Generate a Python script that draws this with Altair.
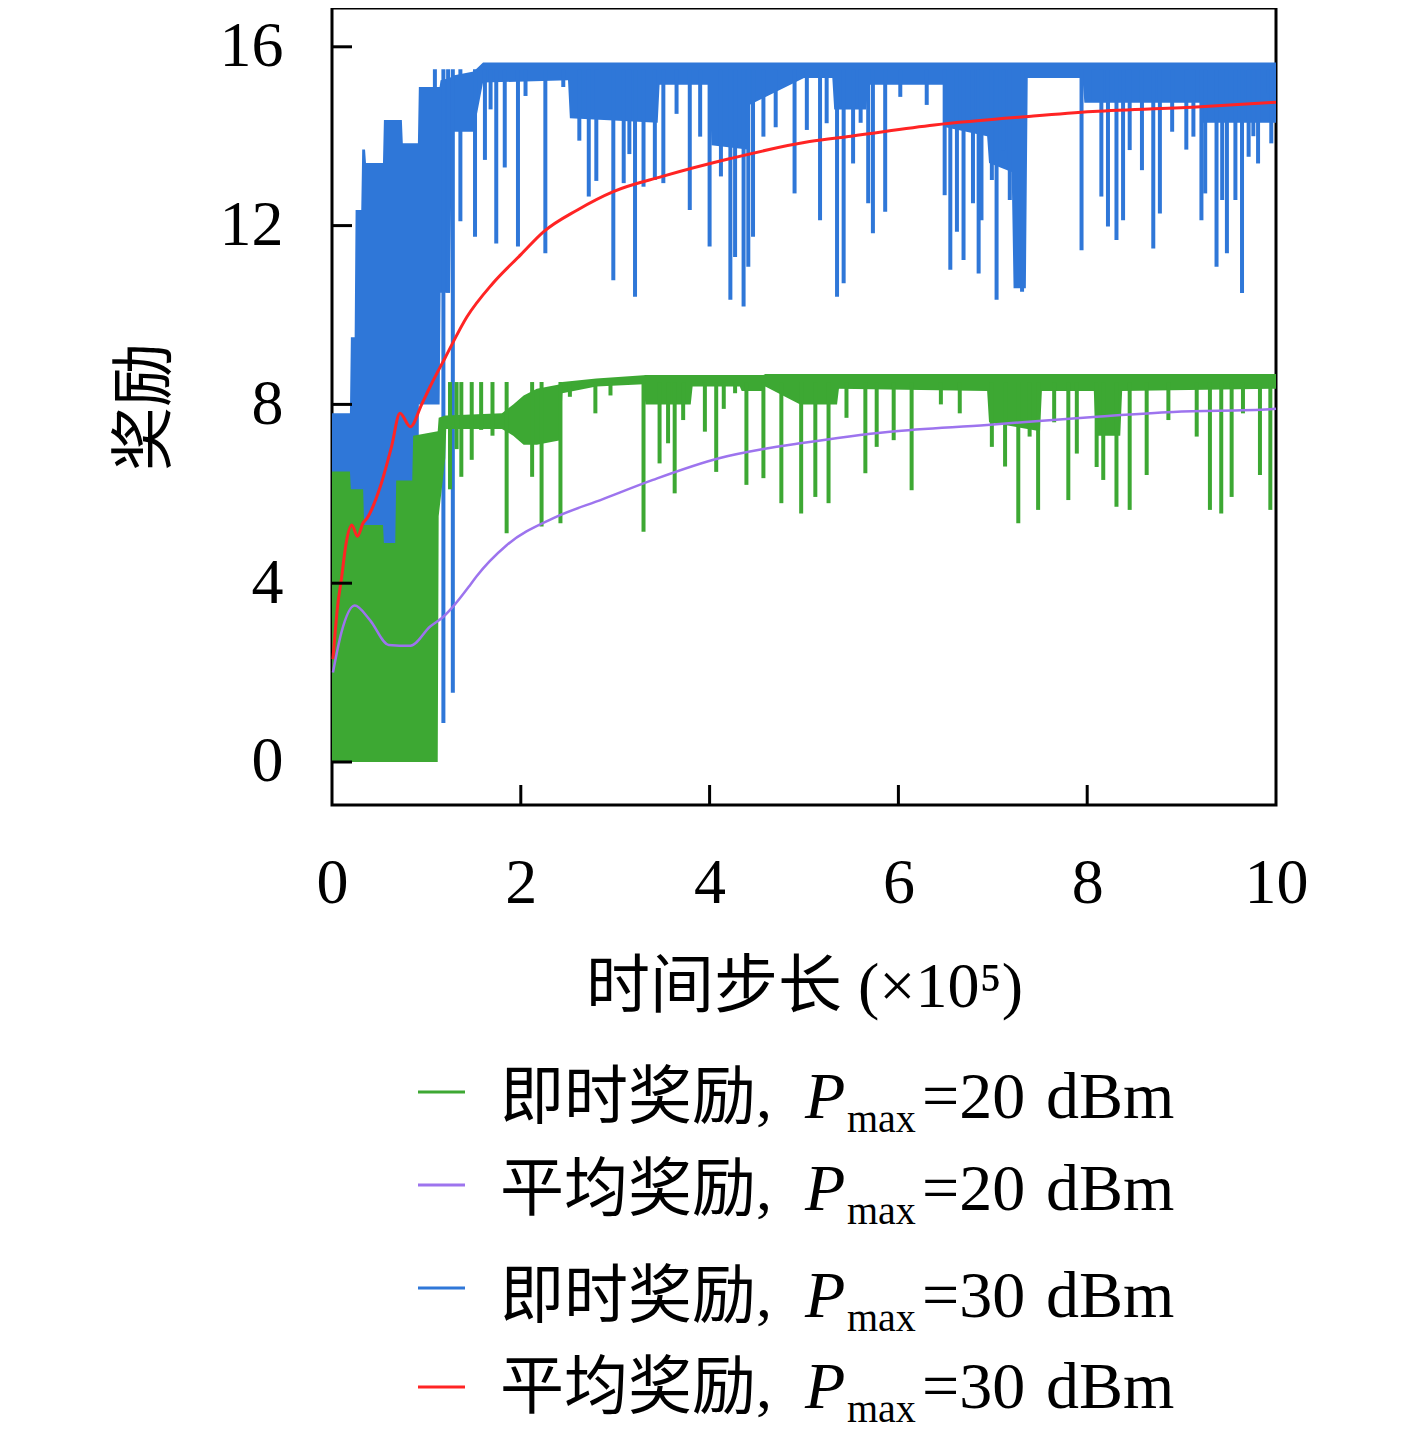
import altair as alt
import pandas as pd

# ---------------- data ----------------
# instantaneous reward, Pmax = 30 dBm : dense band (upper / lower envelope)
blue_band_x = [0, 0.19, 0.2, 0.24, 0.25, 0.31, 0.32, 0.35, 0.36, 0.54,
               0.55, 0.74, 0.75, 0.91, 0.92, 1.14, 1.15, 1.25, 1.27, 1.5,
               1.6, 2.5, 2.52, 3.45, 3.47, 4.0, 4.02, 4.4, 4.42, 5.0,
               5.3, 5.32, 5.66, 5.68, 6.48, 6.5, 6.94, 6.96, 7.2, 7.22,
               7.35, 7.37, 7.95, 7.97, 9.2, 9.22, 10.0]
blue_band_hi = [7.8, 7.8, 9.5, 9.5, 12.35, 12.35, 13.7, 13.7, 13.4, 13.4,
                14.36, 14.36, 13.84, 13.84, 15.1, 15.1, 15.25, 15.3, 15.35, 15.45,
                15.65, 15.65, 15.65, 15.65, 15.65, 15.65, 15.65, 15.65, 15.65, 15.65,
                15.65, 15.65, 15.65, 15.65, 15.65, 15.65, 15.65, 15.65, 15.65, 15.65,
                15.65, 15.65, 15.65, 15.65, 15.65, 15.65, 15.65]
blue_band_lo = [0, 0, 0, 0, 0, 0, 0, 0, 0, 0,
                0, 0, 0, 0, 8.0, 8.0, 10.5, 10.5, 14.1, 14.1,
                15.2, 15.25, 14.4, 14.3, 15.15, 15.15, 13.8, 13.7, 14.7, 15.3,
                15.3, 14.6, 14.6, 15.15, 15.15, 14.2, 14.0, 13.4, 13.2, 10.6,
                10.6, 15.3, 15.3, 14.75, 14.75, 14.3, 14.3]
# downward spikes (x, lowest value)
blue_spike_x = [1.09, 1.18, 1.23, 1.28, 1.36, 1.515, 1.62, 1.74, 1.83, 1.97,
                2.26, 2.45, 2.72, 2.80, 2.98, 3.09, 3.21, 3.30, 3.42, 3.51,
                3.79, 3.90, 4.0, 4.22, 4.27, 4.36, 4.41, 4.46, 4.57, 4.9,
                5.03, 5.17, 5.24, 5.35, 5.42, 5.52, 5.68, 5.73, 5.86, 6.02,
                6.49, 6.55, 6.62, 6.69, 6.79, 6.85, 6.88, 6.99, 7.04, 7.11,
                7.18, 7.31, 7.94, 8.07, 8.15, 8.22, 8.31, 8.38, 8.45, 8.58,
                8.7, 8.77, 9.125, 9.21, 9.25, 9.37, 9.43, 9.48, 9.57, 9.64,
                9.71, 9.81, 9.92, 9.95,
                1.68, 2.05, 2.62, 3.15, 3.65, 4.12, 4.7, 5.6, 6.3, 8.9, 9.05, 9.76]
blue_spike_low = [10.2, 0.87, 10.5, 1.55, 12.1, 11.75, 13.47, 11.6, 13.3, 11.53,
                  11.38, 15.1, 12.65, 13.0, 10.78, 12.95, 10.41, 12.87, 13.02, 12.95,
                  12.35, 13.99, 11.53, 10.34, 11.3, 10.19, 11.08, 11.75, 13.99, 12.72,
                  14.14, 12.12, 14.29, 10.41, 10.71, 13.39, 12.5, 11.83, 12.31, 14.88,
                  12.68, 11.01, 11.86, 11.23, 12.5, 10.93, 12.12, 13.02, 10.34, 13.69,
                  12.57, 10.52, 11.45, 14.81, 12.65, 11.98, 11.68, 12.12, 13.69, 13.24,
                  11.49, 12.27, 13.99, 12.12, 12.72, 11.08, 12.57, 11.38, 12.57, 10.49,
                  13.54, 13.39, 14.96, 13.84,
                  14.6, 14.9, 13.9, 13.6, 14.5, 13.1, 14.2, 14.3, 14.7, 14.1, 13.7, 14.0]

# instantaneous reward, Pmax = 20 dBm
green_band_x = [0, 0.19, 0.2, 0.33, 0.34, 0.54, 0.55, 0.67, 0.68, 0.85,
                0.86, 1.12, 1.13, 1.20, 1.21, 1.8, 1.92, 2.03, 2.17, 2.42,
                2.44, 2.8, 3.3, 3.32, 3.8, 3.82, 4.32, 4.34, 4.57, 4.59,
                4.96, 5.35, 5.37, 6.94, 6.96, 7.5, 7.52, 8.07, 8.09, 8.35,
                8.37, 10.0]
green_band_hi = [6.5, 6.5, 6.1, 6.1, 5.3, 5.3, 4.9, 4.9, 6.3, 6.3,
                 7.3, 7.4, 7.7, 7.75, 7.75, 7.8, 8.0, 8.2, 8.35, 8.45,
                 8.5, 8.58, 8.65, 8.66, 8.66, 8.66, 8.66, 8.66, 8.66, 8.68,
                 8.68, 8.68, 8.68, 8.68, 8.68, 8.68, 8.68, 8.68, 8.68, 8.68,
                 8.68, 8.68]
green_band_lo = [0, 0, 0, 0, 0, 0, 0, 0, 0, 0,
                 0, 0, 5.5, 6.8, 7.45, 7.45, 7.3, 7.1, 7.1, 7.2,
                 8.25, 8.4, 8.45, 8.0, 8.0, 8.4, 8.4, 8.3, 8.3, 8.4,
                 8.0, 8.0, 8.35, 8.3, 7.6, 7.4, 8.3, 8.3, 7.3, 7.3,
                 8.3, 8.35]
green_spike_x = [1.25, 1.37, 1.48, 1.58, 1.85, 2.12, 2.22, 2.42, 2.52, 2.79,
                 3.30, 3.47, 3.56, 3.63, 3.72, 3.95, 4.07, 4.27, 4.39, 4.57,
                 4.76, 4.97, 5.12, 5.26, 5.65, 5.77, 5.95, 6.14, 6.65, 6.99,
                 7.13, 7.27, 7.39, 7.48, 7.8, 7.89, 8.17, 8.31, 8.45, 8.63,
                 8.86, 9.16, 9.3, 9.42, 9.53, 9.83, 9.94,
                 1.32, 1.7, 2.95, 4.15, 5.45, 6.45, 7.65, 8.1, 9.65]
green_spike_low = [6.1, 6.38, 6.76, 7.43, 5.12, 6.38, 5.27, 5.34, 8.17, 7.8,
                   5.15, 6.68, 7.13, 6.01, 7.65, 7.39, 6.49, 8.25, 6.2, 6.35,
                   5.79, 5.56, 5.93, 5.79, 6.46, 7.05, 7.2, 6.08, 7.8, 7.05,
                   6.61, 5.34, 7.28, 5.64, 5.86, 6.9, 6.31, 5.71, 5.64, 6.42,
                   7.65, 7.28, 5.64, 5.56, 5.93, 6.42, 5.64,
                   7.0, 7.3, 8.2, 7.9, 7.7, 8.0, 7.6, 6.6, 7.8]

# average reward, Pmax = 30 dBm
red_x = [0.01, 0.06, 0.10, 0.15, 0.21, 0.27, 0.33, 0.37, 0.51, 0.63,
         0.72, 0.83, 0.95, 1.04, 1.2, 1.43, 1.7, 2.0, 2.24, 2.6,
         2.98, 3.5, 4.22, 5.06, 5.5, 6.38, 7.43, 8.06, 9.2, 10.0]
red_y = [2.3, 3.5, 4.1, 4.9, 5.3, 5.05, 5.35, 5.45, 6.15, 7.05,
         7.8, 7.5, 8.0, 8.4, 9.05, 9.96, 10.7, 11.35, 11.86, 12.35,
         12.76, 13.1, 13.5, 13.88, 14.0, 14.25, 14.45, 14.55, 14.66, 14.76]

# average reward, Pmax = 20 dBm
purple_x = [0.01, 0.1, 0.24, 0.4, 0.6, 0.83, 1.04, 1.18, 1.28, 1.46,
            1.53, 1.85, 2.34, 2.87, 3.4, 4.11, 4.57, 4.96, 5.91, 6.94,
            8.14, 8.91, 9.94, 10.0]
purple_y = [2.0, 2.9, 3.5, 3.18, 2.62, 2.6, 3.03, 3.25, 3.47, 3.95,
            4.15, 4.85, 5.45, 5.88, 6.31, 6.8, 7.0, 7.13, 7.39, 7.54,
            7.73, 7.83, 7.89, 7.9]

x_ticks = [0, 2, 4, 6, 8, 10]
y_ticks = [0, 4, 8, 12, 16]
legend_main = ["即时奖励,", "平均奖励,", "即时奖励,", "平均奖励,"]
legend_power = ["=20", "=20", "=30", "=30"]

# ---------------- style / layout ----------------
GREEN = "#3da833"
BLUE = "#2f77d8"
RED = "#ff2424"
PURPLE = "#9d74ee"
BG = "white"
SERIF = "Liberation Serif"
CJK = "Liberation Serif, Noto Sans CJK SC"
W, H = 944, 797
X_DOMAIN = [0, 10]
Y_DOMAIN = [-0.962, 16.868]

xs = alt.Scale(domain=X_DOMAIN, nice=False, zero=False)
ys = alt.Scale(domain=Y_DOMAIN, nice=False, zero=False)

xaxis = alt.Axis(values=x_ticks, format="d", ticks=False, domain=False, grid=False,
                 labelPadding=46, labelFont=SERIF, labelFontSize=64, labelColor="black",
                 labelFlush=False, labelOverlap=False,
                 title="时间步长 (×10⁵)", titleFont=CJK, titleFontSize=64,
                 titleFontWeight="normal", titleColor="black", titlePadding=40)
yaxis = alt.Axis(values=y_ticks, format="d", ticks=False, domain=False, grid=False,
                 labelPadding=49, labelFont=SERIF, labelFontSize=64, labelColor="black",
                 labelFlush=False, labelOverlap=False,
                 title="奖励", titleFont=CJK, titleFontSize=64,
                 titleFontWeight="normal", titleColor="black", titlePadding=42)


def X(f):
    return alt.X(f, type="quantitative", scale=xs, axis=xaxis)


def Y(f):
    return alt.Y(f, type="quantitative", scale=ys, axis=yaxis)


blue_band = pd.DataFrame({"x": blue_band_x, "hi": blue_band_hi, "lo": blue_band_lo})
blue_sp = pd.DataFrame({"x": blue_spike_x, "low": blue_spike_low})
blue_sp["top"] = 15.5
green_band = pd.DataFrame({"x": green_band_x, "hi": green_band_hi, "lo": green_band_lo})
green_sp = pd.DataFrame({"x": green_spike_x, "low": green_spike_low})
green_sp["top"] = 8.5
red_df = pd.DataFrame({"x": red_x, "y": red_y})
purple_df = pd.DataFrame({"x": purple_x, "y": purple_y})

layers = []
layers.append(alt.Chart(blue_band).mark_area(color=BLUE, opacity=1, interpolate="linear")
              .encode(x=X("x"), y=Y("hi"), y2=alt.Y2("lo")))
layers.append(alt.Chart(blue_sp).mark_rule(color=BLUE, strokeWidth=4)
              .encode(x=X("x"), y=Y("low"), y2=alt.Y2("top")))
layers.append(alt.Chart(green_band).mark_area(color=GREEN, opacity=1, interpolate="linear")
              .encode(x=X("x"), y=Y("hi"), y2=alt.Y2("lo")))
layers.append(alt.Chart(green_sp).mark_rule(color=GREEN, strokeWidth=4)
              .encode(x=X("x"), y=Y("low"), y2=alt.Y2("top")))
layers.append(alt.Chart(red_df).mark_line(color=RED, strokeWidth=3, interpolate="monotone")
              .encode(x=X("x"), y=Y("y")))
layers.append(alt.Chart(purple_df).mark_line(color=PURPLE, strokeWidth=2.5, interpolate="monotone")
              .encode(x=X("x"), y=Y("y")))

# inward ticks
layers.append(alt.Chart(pd.DataFrame({"v": x_ticks[1:-1]})).mark_rule(color="black", strokeWidth=3)
              .encode(x=X("v"), y=alt.value(H), y2=alt.value(H - 20)))
layers.append(alt.Chart(pd.DataFrame({"v": y_ticks})).mark_rule(color="black", strokeWidth=3)
              .encode(y=Y("v"), x=alt.value(0), x2=alt.value(20)))

# legend (drawn below the plot)
dummy = pd.DataFrame({"d": [0]})
colors = [GREEN, PURPLE, BLUE, RED]
swatch_y = [1084, 1177, 1280, 1379]
base_y = [1110, 1202, 1309, 1400]
for i in range(4):
    layers.append(alt.Chart(dummy).mark_rule(color=colors[i], strokeWidth=3)
                  .encode(x=alt.value(86), x2=alt.value(133), y=alt.value(swatch_y[i])))
    layers.append(alt.Chart(dummy).mark_text(text=legend_main[i], font=CJK, fontSize=64,
                                             align="left", baseline="alphabetic", color="black")
                  .encode(x=alt.value(168), y=alt.value(base_y[i])))
    layers.append(alt.Chart(dummy).mark_text(text="P", font=SERIF, fontSize=66, fontStyle="italic",
                                             align="left", baseline="alphabetic", color="black")
                  .encode(x=alt.value(473), y=alt.value(base_y[i])))
    layers.append(alt.Chart(dummy).mark_text(text="max", font=SERIF, fontSize=40,
                                             align="left", baseline="alphabetic", color="black")
                  .encode(x=alt.value(515), y=alt.value(base_y[i] + 14)))
    layers.append(alt.Chart(dummy).mark_text(text=legend_power[i], font=SERIF, fontSize=66,
                                             align="left", baseline="alphabetic", color="black")
                  .encode(x=alt.value(590), y=alt.value(base_y[i])))
    layers.append(alt.Chart(dummy).mark_text(text="dBm", font=SERIF, fontSize=66,
                                             align="left", baseline="alphabetic", color="black")
                  .encode(x=alt.value(714), y=alt.value(base_y[i])))

chart = (alt.layer(*layers)
         .properties(width=W, height=H,
                     padding={"left": 324, "top": 0, "right": 133, "bottom": 629},
                     autosize=alt.AutoSizeParams(type="none"),
                     background=BG)
         .configure_view(stroke="black", strokeWidth=3, fill=BG))

chart.save("out.html", embed_options={"renderer": "svg", "actions": False})
